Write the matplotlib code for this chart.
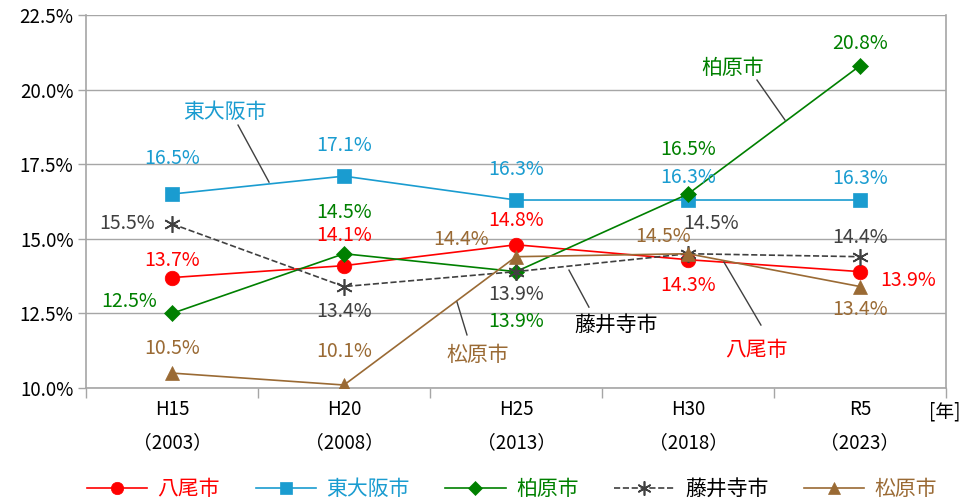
import matplotlib
matplotlib.use("Agg")
import matplotlib.pyplot as plt

plt.rcParams['font.family'] = ['Noto Sans CJK JP', 'DejaVu Sans']

categories = ["H15\n（2003）", "H20\n（2008）", "H25\n（2013）", "H30\n（2018）", "R5\n（2023）"]
yao = [13.7, 14.1, 14.8, 14.3, 13.9]
higashiosaka = [16.5, 17.1, 16.3, 16.3, 16.3]
kashiwara = [12.5, 14.5, 13.9, 16.5, 20.8]
fujiidera = [15.5, 13.4, 13.9, 14.5, 14.4]
matsubara = [10.5, 10.1, 14.4, 14.5, 13.4]
names = ["八尾市", "東大阪市", "柏原市", "藤井寺市", "松原市"]
yticks = [10.0, 12.5, 15.0, 17.5, 20.0, 22.5]

C_RED = "#FF0000"
C_BLUE = "#1A9CD0"
C_GREEN = "#008000"
C_GRAY = "#404040"
C_BROWN = "#9A6A34"

fig = plt.figure(figsize=(9.74, 5.04), dpi=100)
ax = fig.add_axes([86/974, 1-388/504, (946-86)/974, (388-15)/504])

x = list(range(len(categories)))
series = [
    (yao, C_RED, 'o', '-', 10.5, C_RED),
    (higashiosaka, C_BLUE, 's', '-', 10, C_BLUE),
    (kashiwara, C_GREEN, 'D', '-', 8, C_GREEN),
    (fujiidera, C_GRAY, (6, 2, 0), '--', 12, "#000000"),
    (matsubara, C_BROWN, '^', '-', 10.5, C_BROWN),
]
handles = []
for vals, col, mk, ls, ms, tcol in series:
    ln, = ax.plot(x, vals, color=col, marker=mk, linestyle=ls, lw=1.2,
                  markersize=ms, markeredgewidth=1.2 if mk == (6, 2, 0) else 0.5,
                  markeredgecolor=col, markerfacecolor=col, zorder=3)
    handles.append(ln)

ax.set_xlim(-0.5, 4.5)
ax.set_ylim(10, 22.5)
ax.set_yticks(yticks)
ax.set_yticklabels([f"{t:.1f}%" for t in yticks], fontsize=13.5, color="#000000")
ax.yaxis.grid(True, color="#A6A6A6", lw=1.0)
ax.set_axisbelow(True)
ax.tick_params(axis='y', length=6, width=1, color="#A6A6A6", pad=3)

ax.set_xticks([i - 0.5 for i in range(len(categories) + 1)])
ax.set_xticklabels([])
ax.set_xticks(x, minor=True)
ax.set_xticklabels(categories, minor=True, fontsize=13.5, linespacing=1.75)
ax.tick_params(axis='x', which='major', length=7, width=1, color="#A6A6A6")
ax.tick_params(axis='x', which='minor', length=0, pad=8)
for s in ax.spines.values():
    s.set_color("#A6A6A6")
    s.set_linewidth(1.2)
ax.spines['top'].set_visible(False)

# data labels: offsets in pixels (dx, dy) relative to each point
px = 0.72
label_offsets = [
    (yao, C_RED, [(0, 17), (0, 30), (0, 24), (0, -26), (48, -9)]),
    (higashiosaka, C_BLUE, [(0, 36), (0, 31), (0, 31), (0, 23), (0, 22)]),
    (kashiwara, C_GREEN, [(-43, 12), (0, 41), (0, -50), (0, 45), (0, 22)]),
    (fujiidera, C_GRAY, [(-45, 0), (0, -25), (0, -23), (23, 30), (0, 19)]),
    (matsubara, C_BROWN, [(0, 25), (0, 34), (-55, 17), (-25, 17), (0, -23)]),
]
for vals, col, offs in label_offsets:
    for i, (v, (dx, dy)) in enumerate(zip(vals, offs)):
        ax.annotate(f"{v:.1f}%", xy=(i, v), xytext=(dx*px, dy*px),
                    textcoords='offset points', ha='center', va='center',
                    fontsize=14, color=col, zorder=5)

# series name callouts
callouts = [
    ("東大阪市", C_BLUE, (0.31, 19.25), (0.384, 18.81), (0.564, 16.90)),
    ("柏原市", C_GREEN, (3.262, 20.72), (3.401, 20.32), (3.564, 18.98)),
    ("松原市", C_BROWN, (1.779, 11.11), (1.657, 12.88), (1.715, 11.78)),
    ("藤井寺市", "#000000", (2.585, 12.11), (2.308, 13.95), (2.424, 12.71)),
    ("八尾市", C_RED, (3.401, 11.27), (3.209, 14.22), (3.424, 12.11)),
]
for name, col, tpos, p1, p2 in callouts:
    ax.text(tpos[0], tpos[1], name, color=col, fontsize=15, ha='center', va='center', zorder=5)
    ax.plot([p1[0], p2[0]], [p1[1], p2[1]], color=C_GRAY, lw=1.0, zorder=4)

fig.text(945/974, 1-412/504, "[年]", fontsize=13.5, ha='center', va='center')

leg = fig.legend(handles, names, loc='center', bbox_to_anchor=(512/974, 1-489/504), ncol=5,
                 frameon=False, fontsize=15, handlelength=2.9, columnspacing=1.7,
                 handletextpad=0.5, markerscale=0.85)
for t, (_, _, _, _, _, tcol) in zip(leg.get_texts(), series):
    t.set_color(tcol)

fig.savefig("out.png", dpi=100)
